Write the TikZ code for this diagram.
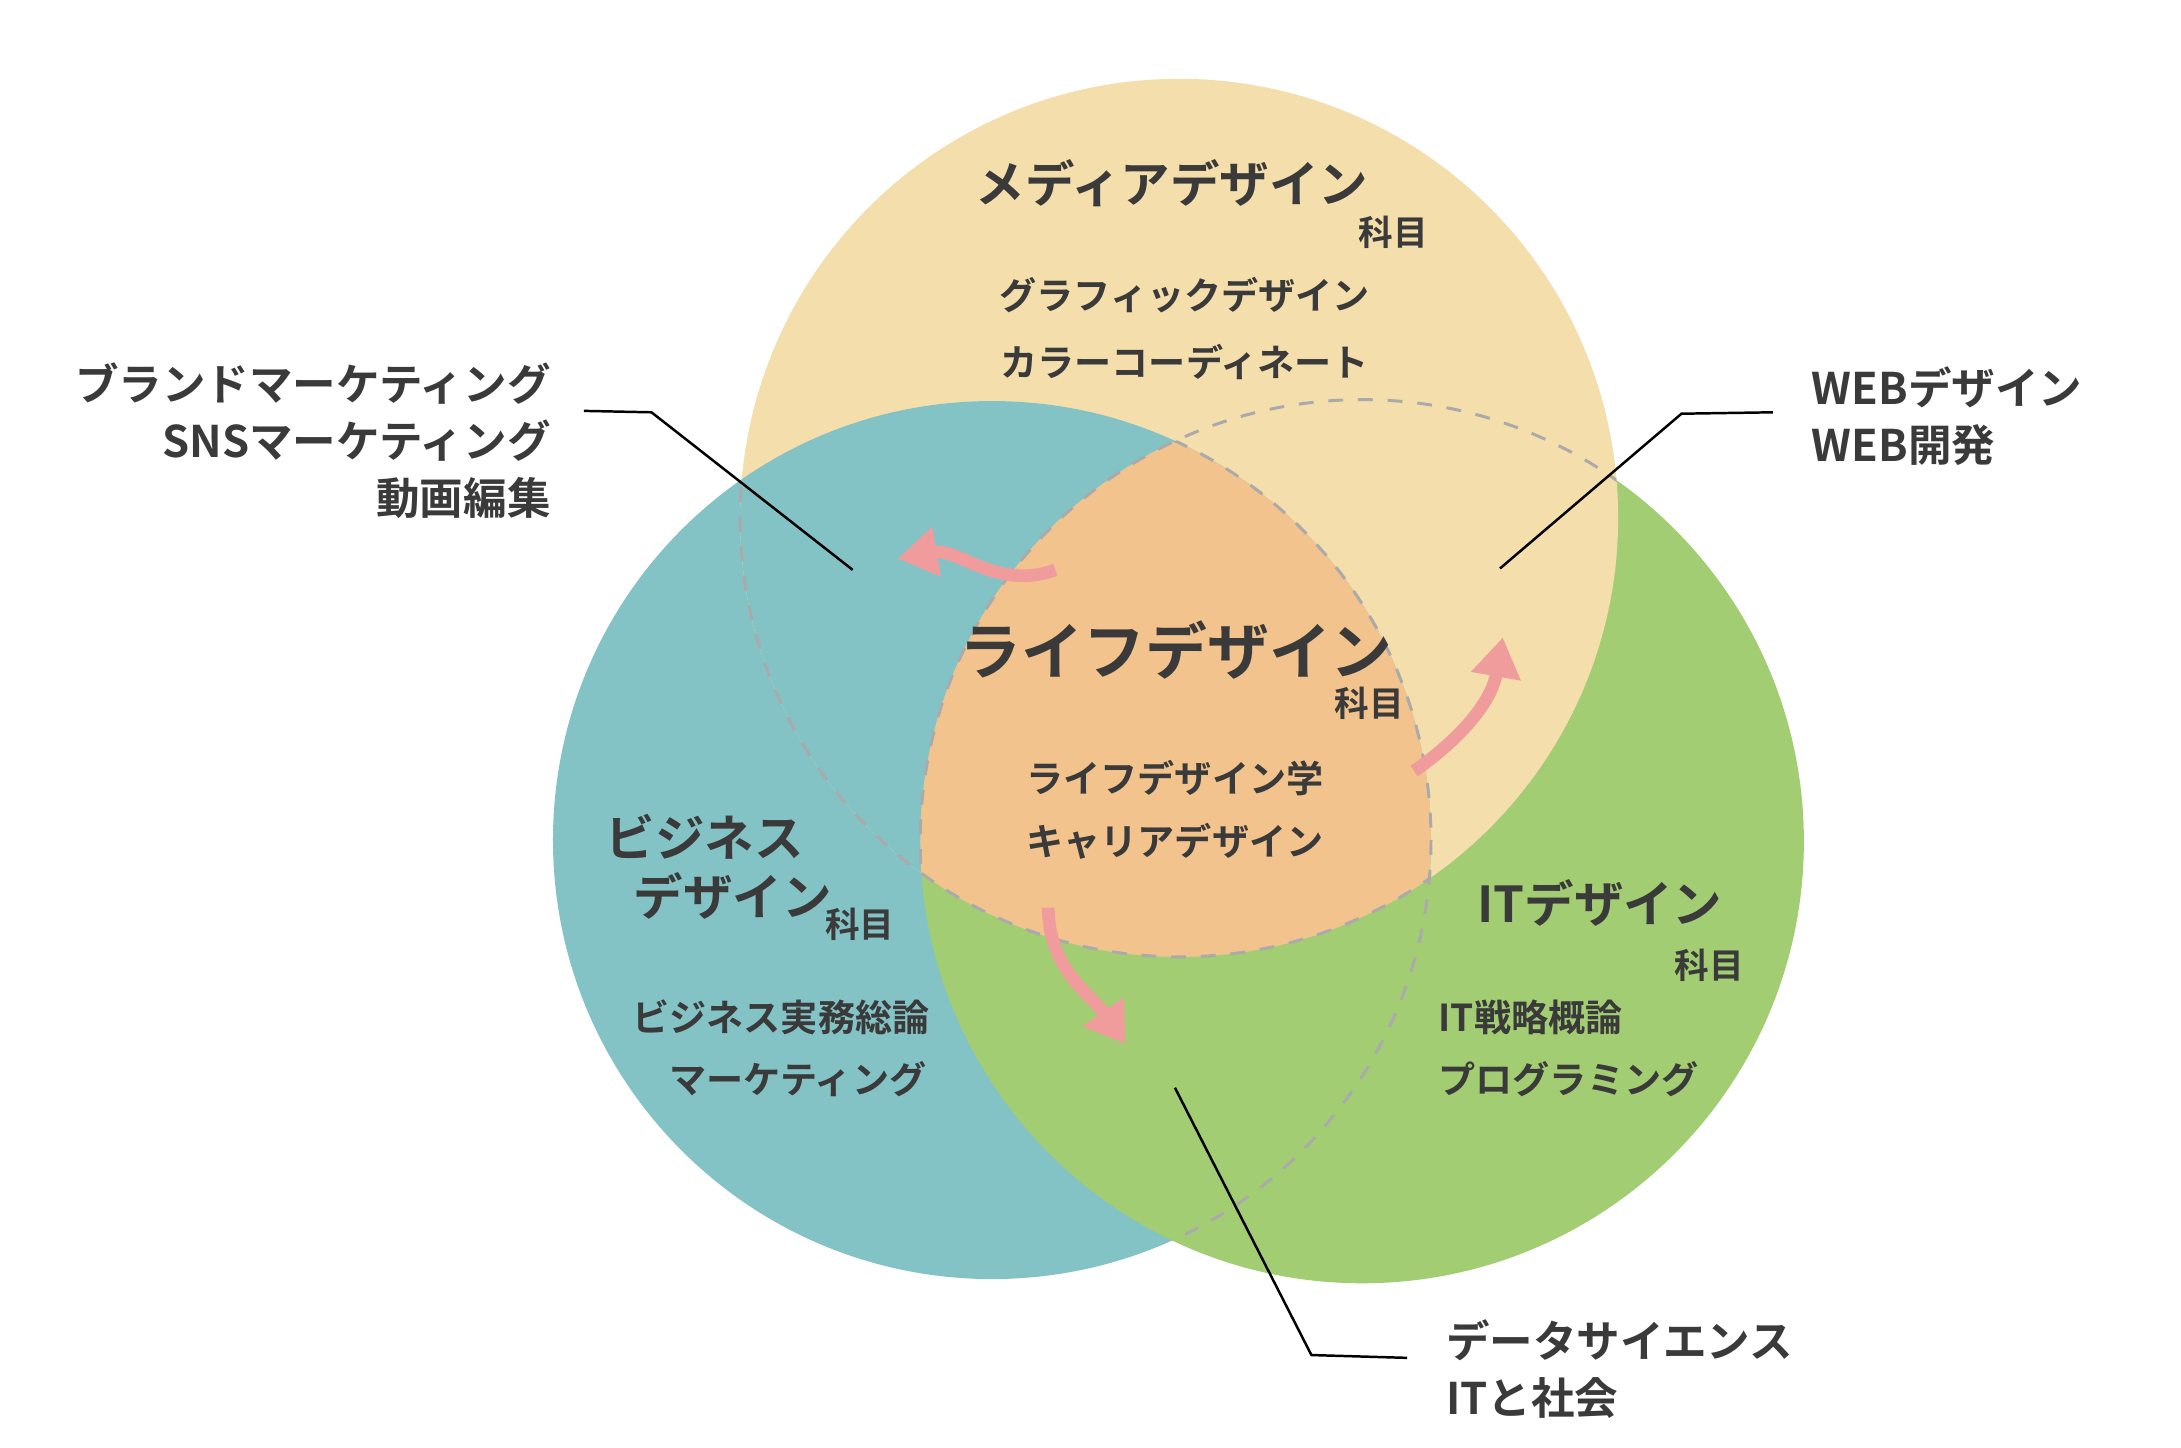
\documentclass[tikz,border=0pt]{standalone}
\usepackage{fontspec}
\setmainfont{Noto Sans CJK JP Bold}
\usetikzlibrary{arrows.meta,positioning}
\definecolor{cyel}{HTML}{F3DEAC}
\definecolor{cteal}{HTML}{84C3C5}
\definecolor{cgrn}{HTML}{A2CD72}
\definecolor{corg}{HTML}{F2C38C}
\definecolor{cpink}{HTML}{F09C9C}
\definecolor{ctxt}{HTML}{3A3A3A}
\definecolor{cdash}{HTML}{AAAAAA}
\tikzset{
  title/.style={text=ctxt, font=\fontsize{10}{12}\selectfont},
  bigtitle/.style={text=ctxt, font=\fontsize{12.5}{15}\selectfont},
  kamoku/.style={text=ctxt, font=\fontsize{7}{9}\selectfont},
  item/.style={text=ctxt, font=\fontsize{7.5}{9}\selectfont},
  callout/.style={text=ctxt, font=\fontsize{8.8}{11.5}\selectfont, inner sep=0pt},
  leader/.style={black, line width=0.5pt},
  hidden/.style={cdash, dashed, line width=0.6pt},
  flow/.style={cpink, line width=0.09cm, -{Triangle[length=0.28cm, width=0.34cm]}}
}
\begin{document}
\begin{tikzpicture}[x=0.01cm, y=-0.01cm]
    \useasboundingbox (0,0) rectangle (1550,1029);
    % circles
    \fill[cteal] (705,597) circle (312);
    \fill[cgrn]  (968,598) circle (314);
    \fill[cyel]  (838,368) circle (312);
    \begin{scope}
        \clip (838,368) circle (312);
        \fill[cteal] (705,597) circle (312);
        \clip (705,597) circle (312);
        \fill[corg] (968,598) circle (314);
    \end{scope}
    % hidden outlines
    \begin{scope}
        \clip (705,597) circle (312);
        \draw[hidden] (838,368) circle (312);
    \end{scope}
    \begin{scope}
        \clip (838,368) circle (312);
        \draw[hidden] (968,598) circle (314);
    \end{scope}
    \begin{scope}
        \clip (968,598) circle (314);
        \draw[hidden] (705,597) circle (312);
    \end{scope}

    % media
    \node[title]  (media)   at (833,130) {メディアデザイン};
    \node[kamoku] (mediak)  at (990,165) {科目};
    \node[item]   (graphic) at (842,210) {グラフィックデザイン};
    \node[item]   (color)   at (842,257) {カラーコーディネート};
    % life
    \node[bigtitle] (life)   at (836,462) {ライフデザイン};
    \node[kamoku]   (lifek)  at (973,500) {科目};
    \node[item]     (lifes)  at (835,553) {ライフデザイン学};
    \node[item]     (career) at (835,598) {キャリアデザイン};
    % business
    \node[title, anchor=west]  (biz1)  at (418,595) {ビジネス};
    \node[title, anchor=west]  (biz2)  at (438,637) {デザイン};
    \node[kamoku] (bizk)  at (611,657) {科目};
    \node[item]   (jitsumu) at (555,723) {ビジネス実務総論};
    \node[item]   (mkt)     at (567,767) {マーケティング};
    % IT
    \node[title]  (it)    at (1137,642) {ITデザイン};
    \node[kamoku] (itk)   at (1215,686) {科目};
    \node[item, anchor=west] (senryaku) at (1010,723) {IT戦略概論};
    \node[item, anchor=west] (prog)     at (1010,767) {プログラミング};

    % callouts
    \node[callout, anchor=north east, align=right] (brand) at (392,257)
        {ブランドマーケティング\\SNSマーケティング\\動画編集};
    \node[callout, anchor=north west, align=left] (web) at (1287,260)
        {WEBデザイン\\WEB開発};
    \node[callout, anchor=north west, align=left] (data) at (1027,937)
        {データサイエンス\\ITと社会};
    \coordinate (brandend) at (606,405);
    \coordinate (webend)   at (1066,404);
    \coordinate (dataend)  at (835,773);
    \draw[leader] (415,292) -- (463,293) -- (brandend);
    \draw[leader] (1260,293) -- (1195,294) -- (webend);
    \draw[leader] (1000,965) -- (932,963) -- (dataend);

    % flows
    \draw[flow] (750,405) to[out=200, in=10] (638,397);
    \draw[flow] (1005,548) to[out=35, in=-100] (1068,453);
    \draw[flow] (745,645) to[out=-90, in=125] (800,742);
\end{tikzpicture}
\end{document}
